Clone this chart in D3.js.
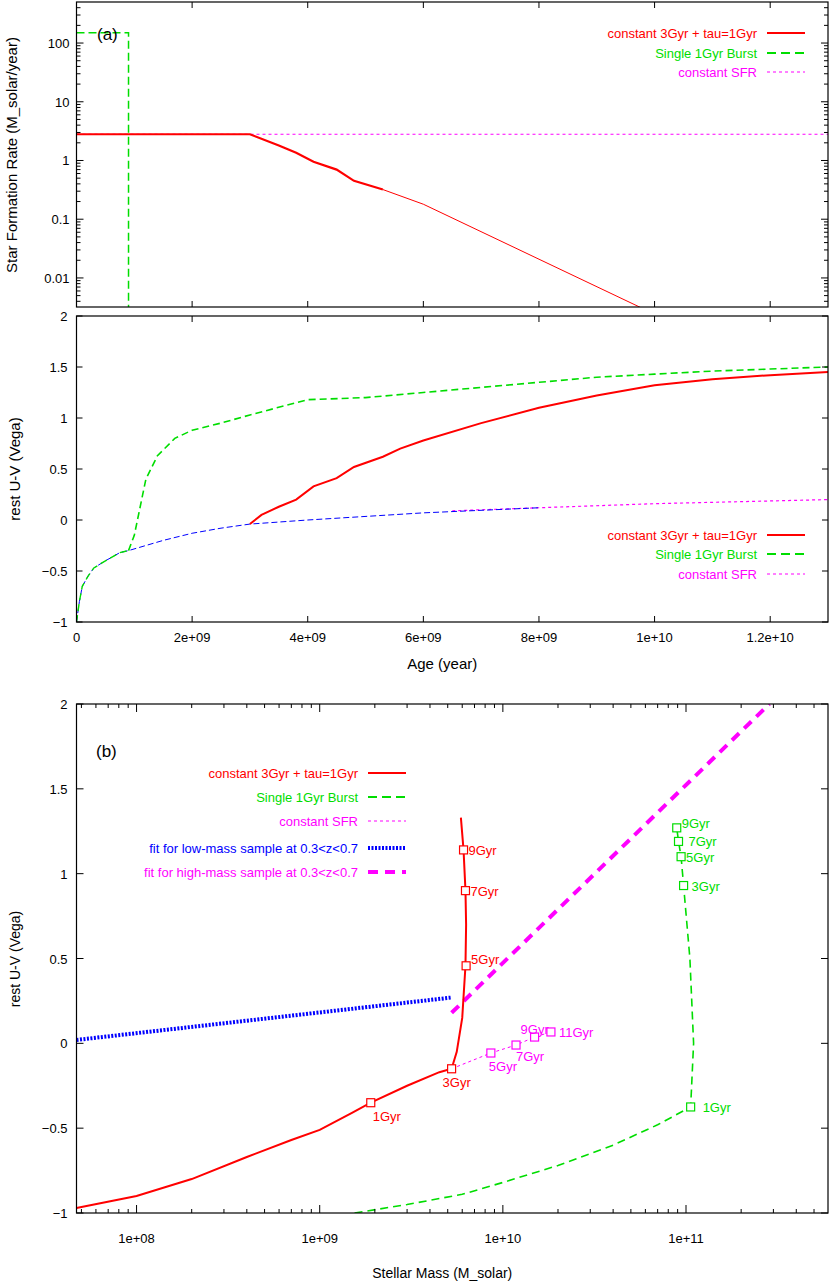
<!DOCTYPE html>
<html><head><meta charset="utf-8">
<script src="https://cdn.jsdelivr.net/npm/d3@7"></script>
<style>body{margin:0;background:#fff}text{font-family:"Liberation Sans",Arial,sans-serif}</style>
</head><body>
<script>
// ---- data (age in Gyr, SFR in Msun/yr) ----
var sfrTau = [[0,2.8],[3,2.8],[3.5,1.8],[3.8,1.35],[4.1,0.95],[4.5,0.7],[4.8,0.45],[5.3,0.32],[6,0.18],[9.8,0.003]];
var sfrBurst = [[0,150],[0.9,150],[0.9,0.001]];
var sfrConst = [[0,2.8],[13,2.8]];

var uvEarly = [[0,-1],[0.05,-0.8],[0.1,-0.65],[0.2,-0.55],[0.3,-0.47],[0.5,-0.4],[0.75,-0.32],[0.9,-0.3],[1.5,-0.2],[2,-0.13],[2.5,-0.08],[3,-0.04]];
var uvBurst = [[0.9,-0.3],[1.0,-0.15],[1.2,0.4],[1.4,0.63],[1.7,0.8],[2,0.88],[2.5,0.95],[3,1.03],[4,1.18],[5,1.2],[6,1.25],[7,1.3],[8,1.35],[9,1.4],[10,1.43],[11,1.46],[12,1.48],[13,1.5]];
var uvTau = [[3,-0.04],[3.2,0.05],[3.5,0.13],[3.8,0.2],[4.1,0.33],[4.5,0.41],[4.8,0.52],[5.3,0.62],[5.6,0.7],[6,0.78],[7,0.95],[8,1.1],[9,1.22],[10,1.32],[11,1.38],[12,1.42],[13,1.45]];
var uvConstBlue = [[3,-0.04],[4,0],[6,0.07],[8,0.12]];
var uvConstMag = [[6.5,0.09],[8,0.12],[10,0.16],[13,0.2]];

// mass vs U-V
var cmTau = [[4.7e7,-0.97],[1e8,-0.9],[2e8,-0.8],[4e8,-0.67],[7e8,-0.57],[1e9,-0.51],[1.5e9,-0.41],[1.9e9,-0.35],[3e9,-0.25],[4.5e9,-0.17],[5.25e9,-0.15],[5.6e9,-0.05],[6e9,0.15],[6.25e9,0.457],[6.3e9,0.7],[6.25e9,0.9],[6.1e9,1.14],[5.9e9,1.33]];
var cmBurst = [[1.55e9,-1],[3e9,-0.95],[6e9,-0.89],[1e10,-0.82],[2e10,-0.72],[4e10,-0.6],[7e10,-0.48],[1.06e11,-0.375],[1.1e11,0],[1.05e11,0.5],[9.7e10,0.93],[9.4e10,1.1],[9.1e10,1.19],[8.9e10,1.27]];
var cmConst = [[5.25e9,-0.15],[8.6e9,-0.057],[1.18e10,-0.01],[1.49e10,0.037],[1.83e10,0.067]];
var fitLow = [[4.7e7,0.02],[5.25e9,0.27]];
var fitHigh = [[5.25e9,0.18],[2.85e11,2.0]];

var tauMarks = [[1.9e9,-0.35,"1Gyr"],[5.25e9,-0.15,"3Gyr"],[6.3e9,0.457,"5Gyr"],[6.25e9,0.9,"7Gyr"],[6.1e9,1.14,"9Gyr"]];
var burstMarks = [[1.06e11,-0.375,"1Gyr"],[9.7e10,0.93,"3Gyr"],[9.4e10,1.1,"5Gyr"],[9.1e10,1.19,"7Gyr"],[8.9e10,1.27,"9Gyr"]];
var constMarks = [[8.6e9,-0.057,"5Gyr"],[1.18e10,-0.01,"7Gyr"],[1.49e10,0.037,"9Gyr"],[1.83e10,0.067,"11Gyr"]];

var legendNames = ["constant 3Gyr + tau=1Gyr","Single 1Gyr Burst","constant SFR"];
var fitNames = ["fit for low-mass sample at 0.3<z<0.7","fit for high-mass sample at 0.3<z<0.7"];

var RED="#ff0000", GRN="#00dd00", MAG="#ff00ff", BLU="#0000ff";

var svg = d3.select("body").append("svg").attr("width",830).attr("height",1287);

function frame(x0,x1,y0,y1){
  svg.append("rect").attr("x",x0).attr("y",y0).attr("width",x1-x0).attr("height",y1-y0)
    .attr("fill","none").attr("stroke","#000").attr("stroke-width",1.2);
}
function ticksX(x, vals, y0, y1, len){
  vals.forEach(function(v){
    svg.append("line").attr("x1",x(v)).attr("x2",x(v)).attr("y1",y1).attr("y2",y1-len).attr("stroke","#000");
    svg.append("line").attr("x1",x(v)).attr("x2",x(v)).attr("y1",y0).attr("y2",y0+len).attr("stroke","#000");
  });
}
function ticksY(y, vals, x0, x1, len){
  vals.forEach(function(v){
    svg.append("line").attr("y1",y(v)).attr("y2",y(v)).attr("x1",x0).attr("x2",x0+len).attr("stroke","#000");
    svg.append("line").attr("y1",y(v)).attr("y2",y(v)).attr("x1",x1).attr("x2",x1-len).attr("stroke","#000");
  });
}
function path(g, data, x, y, color, w, dash){
  g.append("path").datum(data).attr("fill","none").attr("stroke",color).attr("stroke-width",w)
    .attr("stroke-dasharray",dash||null)
    .attr("d",d3.line().x(function(d){return x(d[0]);}).y(function(d){return y(d[1]);}));
}
function legend(xr, ys, names, colors, dashes, widths){
  names.forEach(function(n,i){
    svg.append("text").attr("x",xr).attr("y",ys[i]+4.5).attr("text-anchor","end")
      .attr("font-size",13).attr("fill",colors[i]).text(n);
    svg.append("line").attr("x1",xr+10).attr("x2",xr+48).attr("y1",ys[i]).attr("y2",ys[i])
      .attr("stroke",colors[i]).attr("stroke-width",widths[i]).attr("stroke-dasharray",dashes[i]);
  });
}
function clip(id,x0,x1,y0,y1){
  svg.append("clipPath").attr("id",id).append("rect").attr("x",x0).attr("y",y0).attr("width",x1-x0).attr("height",y1-y0);
  return svg.append("g").attr("clip-path","url(#"+id+")");
}

var L=76.5, R=828;
// ---- panel a top ----
var xa = d3.scaleLinear().domain([0,13]).range([L,R]);
var ya = d3.scaleLog().domain([0.0032,500]).range([307,2]);
var ga = clip("ca",L,R,2,307);
path(ga,sfrConst,xa,ya,MAG,1.2,"3,3");
path(ga,sfrBurst,xa,ya,GRN,1.5,"8,4");
path(ga,sfrTau.slice(0,8),xa,ya,RED,2.2);
path(ga,sfrTau.slice(7),xa,ya,RED,1);
frame(L,R,2,307);
ticksX(xa,d3.range(0,13,2),2,307,6);
var ytA=[0.01,0.1,1,10,100];
var yMinA=[];[0.001,0.01,0.1,1,10,100].forEach(function(b){for(var k=2;k<10;k++){var v=b*k;if(v>0.0032&&v<500)yMinA.push(v);}});
ticksY(ya,ytA,L,R,7); ticksY(ya,yMinA,L,R,4);
ytA.forEach(function(v){svg.append("text").attr("x",L-7).attr("y",ya(v)+5).attr("text-anchor","end").attr("font-size",13).text(d3.format("~g")(v));});
svg.append("text").attr("transform","translate(17,155)rotate(-90)").attr("text-anchor","middle").attr("font-size",15)
  .text("Star Formation Rate  (M_solar/year)");
svg.append("text").attr("x",97).attr("y",40).attr("font-size",17).text("(a)");
legend(757,[33,53,72],legendNames,[RED,GRN,MAG],[null,"9,5","3,3"],[2.2,2,1.2]);

// ---- panel a bottom ----
var yb = d3.scaleLinear().domain([-1,2]).range([622,316]);
var gb = clip("cb",L,R,316,622);
path(gb,uvConstMag,xa,yb,MAG,1.2,"3,3");
path(gb,uvEarly.concat(uvConstBlue.slice(1)),xa,yb,BLU,1,"6,3");
path(gb,uvEarly.filter(function(d){return d[0]<=0.9;}),xa,yb,GRN,1.4,"7,4");
path(gb,uvBurst,xa,yb,GRN,1.6,"7,4");
path(gb,uvTau,xa,yb,RED,2);
frame(L,R,316,622);
ticksX(xa,d3.range(0,13,2),316,622,6);
var ytB=d3.range(-1,2.01,0.5);
ticksY(yb,ytB,L,R,6);
ytB.forEach(function(v){svg.append("text").attr("x",L-9).attr("y",yb(v)+5).attr("text-anchor","end").attr("font-size",13).text(d3.format("~g")(v));});
var ageLabels=["0","2e+09","4e+09","6e+09","8e+09","1e+10","1.2e+10"];
d3.range(0,13,2).forEach(function(v,i){svg.append("text").attr("x",xa(v)).attr("y",642).attr("text-anchor","middle").attr("font-size",13).text(ageLabels[i]);});
svg.append("text").attr("x",(L+R)/2-10).attr("y",669).attr("text-anchor","middle").attr("font-size",15).text("Age (year)");
svg.append("text").attr("transform","translate(20,469)rotate(-90)").attr("text-anchor","middle").attr("font-size",15).text("rest U-V (Vega)");
legend(757,[535,554,574],legendNames,[RED,GRN,MAG],[null,"9,5","3,3"],[2.2,2,1.2]);

// ---- panel b ----
var xc = d3.scaleLog().domain([4.7e7,5.96e11]).range([L,R]);
var yc = d3.scaleLinear().domain([-1,2]).range([1213,704]);
var gc = clip("cc",L,R,704,1213);
path(gc,fitLow,xc,yc,BLU,4,"2,1.5");
path(gc,fitHigh,xc,yc,MAG,4,"10,7");
path(gc,cmConst,xc,yc,MAG,1,"3,3");
path(gc,cmBurst,xc,yc,GRN,1.6,"8,5");
path(gc,cmTau,xc,yc,RED,2);
function marks(list,color,dx,dy){
  list.forEach(function(m,i){
    svg.append("rect").attr("x",xc(m[0])-4).attr("y",yc(m[1])-4).attr("width",8).attr("height",8)
      .attr("fill","#fff").attr("stroke",color).attr("stroke-width",1.2);
    svg.append("text").attr("x",xc(m[0])+dx[i]).attr("y",yc(m[1])+dy[i]).attr("font-size",13).attr("fill",color).text(m[2]);
  });
}
marks(tauMarks,RED,[2,-9,5,5,5],[18,18,-2,5,5]);
marks(burstMarks,GRN,[12,8,5,10,5],[5,5,5,5,0]);
marks(constMarks,MAG,[-2,0,-14,8],[18,16,-3,5]);
frame(L,R,704,1213);
var xtC=[1e8,1e9,1e10,1e11];
var xMinC=[];[1e7,1e8,1e9,1e10,1e11].forEach(function(b){for(var k=2;k<10;k++){var v=b*k;if(v>4.7e7&&v<5.96e11)xMinC.push(v);}});
ticksX(xc,xtC,704,1213,8); ticksX(xc,xMinC,704,1213,4);
var ytC=d3.range(-1,2.01,0.5);
ticksY(yc,ytC,L,R,7);
ytC.forEach(function(v){svg.append("text").attr("x",L-9).attr("y",yc(v)+5).attr("text-anchor","end").attr("font-size",13).text(d3.format("~g")(v));});
var massLabels=["1e+08","1e+09","1e+10","1e+11"];
xtC.forEach(function(v,i){svg.append("text").attr("x",xc(v)).attr("y",1243).attr("text-anchor","middle").attr("font-size",13).text(massLabels[i]);});
svg.append("text").attr("x",(L+R)/2-10).attr("y",1278).attr("text-anchor","middle").attr("font-size",14).text("Stellar Mass (M_solar)");
svg.append("text").attr("transform","translate(20,959)rotate(-90)").attr("text-anchor","middle").attr("font-size",14).text("rest U-V (Vega)");
svg.append("text").attr("x",96).attr("y",757).attr("font-size",17).text("(b)");
legend(358,[773,797,821],legendNames,[RED,GRN,MAG],[null,"9,5","3,3"],[2,2,1]);
legend(358,[848,872],fitNames,[BLU,MAG],["2,1.5","10,7"],[4,4]);
</script>
</body></html>
